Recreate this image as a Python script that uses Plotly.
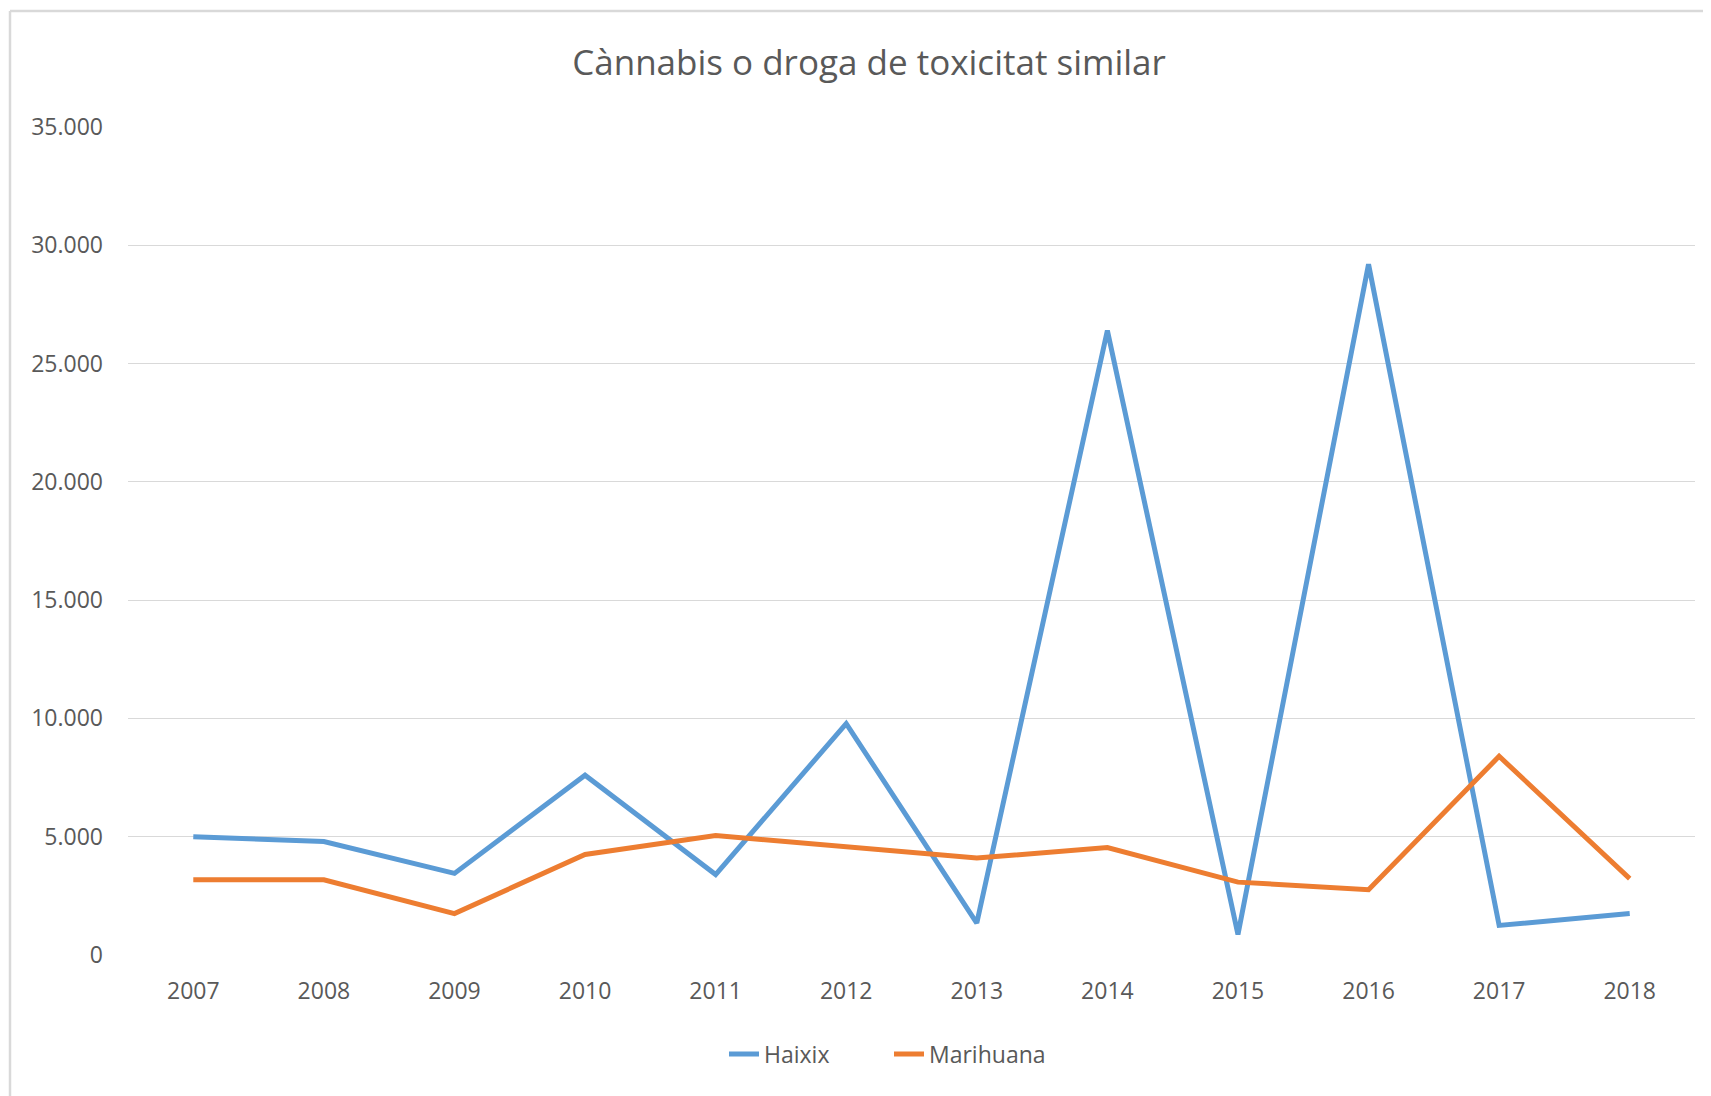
import plotly.graph_objects as go

years = ["2007", "2008", "2009", "2010", "2011", "2012", "2013", "2014", "2015", "2016", "2017", "2018"]
haixix = [5000, 4800, 3450, 7600, 3400, 9780, 1350, 26400, 870, 29200, 1250, 1750]
marihuana = [3180, 3180, 1750, 4250, 5050, 4560, 4100, 4540, 3080, 2760, 8400, 3230]
y_ticks = [0, 5000, 10000, 15000, 20000, 25000, 30000, 35000]

# page has an 8px body margin, so the figure is 8px smaller and everything shifted
W, H = 1703, 1088
L, R, T, B = 120, 16, 119, 141
pw, ph = W - L - R, H - T - B

fig = go.Figure()
fig.add_trace(go.Scatter(x=years, y=haixix, name="Haixix", mode="lines",
                         line=dict(color="#5b9bd5", width=5)))
fig.add_trace(go.Scatter(x=years, y=marihuana, name="Marihuana", mode="lines",
                         line=dict(color="#ed7d31", width=5)))

def px_x(p):
    return (p - L) / pw

def px_y(p):
    return (H - B - p) / ph

fig.update_layout(
    width=W, height=H,
    margin=dict(l=L, r=R, t=T, b=B, autoexpand=False),
    paper_bgcolor="white", plot_bgcolor="white",
    separators=",.",
    font=dict(family="Open Sans", color="#595959", size=23),
    title=dict(text="Cànnabis o droga de toxicitat similar",
               x=861 / W, xanchor="center", y=1 - 55 / H, yanchor="middle",
               font=dict(family="Open Sans", size=35, color="#595959")),
    showlegend=True,
    legend=dict(orientation="h", x=px_x(716), xanchor="left", y=px_y(1046), yanchor="middle",
                entrywidth=120, entrywidthmode="pixels",
                font=dict(size=23, color="#595959"), traceorder="normal"),
    xaxis=dict(type="category", range=[-0.5, 11.5], showgrid=False, showline=False, ticks="",
               ticklabelstandoff=20,
               tickfont=dict(size=23, color="#595959"), zeroline=False),
    yaxis=dict(range=[0, 35000], tickvals=y_ticks, tickformat=",d",
               showgrid=True, gridcolor="#d9d9d9", gridwidth=1.3,
               zeroline=False, showline=False, ticks="",
               ticklabelstandoff=24,
               tickfont=dict(size=23, color="#595959")),
    shapes=[
        dict(type="line", xref="paper", yref="paper",
             x0=px_x(2), x1=px_x(2), y0=px_y(3), y1=px_y(H + 20),
             line=dict(color="#d9d9d9", width=2.5)),
        dict(type="line", xref="paper", yref="paper",
             x0=px_x(2), x1=px_x(W + 20), y0=px_y(3), y1=px_y(3),
             line=dict(color="#d9d9d9", width=2.5)),
    ],
)

fig.write_html("out.html")
